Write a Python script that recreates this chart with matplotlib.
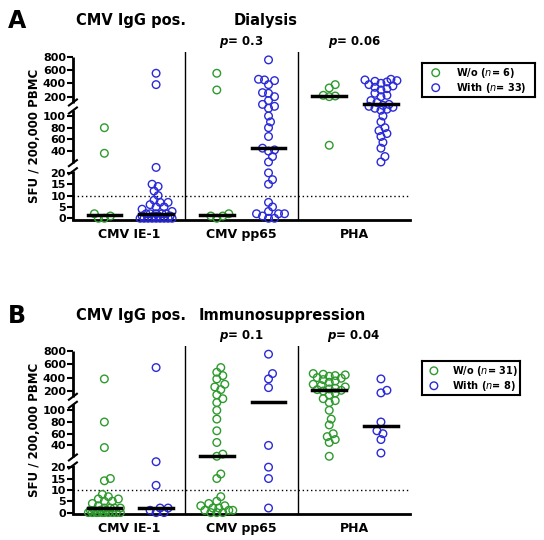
import numpy as np
import matplotlib
matplotlib.use("Agg")
import matplotlib.pyplot as plt

categories = ["CMV IE-1", "CMV pp65", "PHA"]
yticks = [0, 5, 10, 15, 20, 40, 60, 80, 100, 200, 400, 600, 800]

# Panel A (Dialysis)
A_wo = [[80, 38, 2, 1, 0, 0],
        [550, 300, 2, 1, 1, 0],
        [380, 330, 220, 210, 200, 50]]
A_with = [[550, 380, 25, 15, 14, 12, 10, 8, 7, 7, 6, 5, 5, 4, 3, 2, 2, 2, 2, 2, 1, 1, 1, 1, 0, 0, 0, 0, 0, 0, 0, 0, 0],
          [750, 460, 450, 440, 380, 260, 250, 200, 180, 160, 150, 140, 100, 90, 80, 65, 45, 42, 40, 35, 30, 20, 17, 15, 7, 5, 3, 2, 2, 2, 1, 0, 0],
          [460, 450, 440, 430, 420, 400, 380, 360, 340, 320, 300, 250, 220, 200, 180, 170, 160, 155, 150, 145, 140, 135, 130, 100, 90, 80, 75, 70, 65, 55, 45, 35, 30]]
A_p = ["0.3", "0.06"]
A_leg = ["6", "33"]

# Panel B (Immunosuppression)
B_wo = [[380, 80, 38, 15, 14, 8, 7, 6, 6, 5, 5, 4, 3, 2, 2, 2, 2, 1, 1, 1, 1, 0, 0, 0, 0, 0, 0, 0, 0, 0, 0],
        [550, 480, 430, 380, 300, 260, 220, 180, 160, 140, 100, 85, 65, 45, 32, 30, 17, 15, 7, 5, 4, 3, 3, 2, 2, 1, 1, 1, 0, 0, 0],
        [460, 450, 440, 430, 420, 400, 390, 370, 350, 330, 300, 280, 260, 240, 230, 220, 210, 200, 190, 180, 160, 150, 140, 100, 85, 75, 60, 55, 50, 45, 30]]
B_with = [[550, 25, 12, 2, 2, 1, 0, 0],
          [750, 460, 380, 250, 40, 20, 15, 2],
          [380, 210, 190, 80, 65, 60, 50, 33]]
B_p = ["0.1", "0.04"]
B_leg = ["31", "8"]

KV = [-20, 0, 20, 40, 100, 200, 800, 900]
KH = [-20, 0, 45.3, 67, 102, 121.3, 161.3, 168]
def f(v):
    return np.interp(v, KV, KH)

GREEN = "#2e9a2e"
BLUE = "#2a2ad8"

fig = plt.figure(figsize=(5.44, 5.40), dpi=100)

def swarm(xc, vals, xperpx, maxpx=17):
    h = f(np.array(vals, float))
    order = np.argsort(h)
    placed = []
    xs = np.zeros(len(h))
    diam = 6.0
    steps = [0]
    for k in range(1, int(maxpx / 2) + 1):
        steps += [k * 2, -k * 2]
    for i in order:
        best, bestd = 0, -1
        for c in steps:
            x = xc + c * xperpx
            d = min([np.hypot((x - px) / xperpx, h[i] - ph) for px, ph in placed] + [99])
            if d >= diam:
                best = c; bestd = d
                break
            if d > bestd:
                best, bestd = c, d
        x = xc + best * xperpx
        xs[i] = x
        placed.append((x, h[i]))
    return xs, h

def panel(rect, wo, wi, pvals, leg, letter, subtitle, legrect, ytop):
    ax = fig.add_axes(rect)
    ax.set_xlim(0, 3)
    ax.set_ylim(-1.5, 166)
    xperpx = 3 / (rect[2] * 544)
    for s in ["top", "right", "left"]:
        ax.spines[s].set_visible(False)
    ax.spines["bottom"].set_linewidth(2)
    for a, b in [(-1.5, 47), (55, 108), (115, 161.3)]:
        ax.plot([0, 0], [a, b], color="k", lw=2, clip_on=False, solid_capstyle="butt")
    for hb in [51, 111.5]:
        for d in (-4, 4):
            ax.plot([-4 * xperpx, 4 * xperpx], [hb + d - 3, hb + d + 3], color="k", lw=1.5, clip_on=False)
    ax.set_yticks(f(np.array(yticks)))
    ax.set_yticklabels([str(t) for t in yticks], fontsize=8, fontweight="bold")
    ax.tick_params(axis="y", width=1.5, length=4, pad=1)
    ax.set_xticks([0.5, 1.5, 2.5])
    ax.set_xticklabels(categories, fontsize=9, fontweight="bold")
    ax.tick_params(axis="x", length=0, pad=6)
    ax.set_ylabel("SFU / 200,000 PBMC", fontsize=8.5, fontweight="bold", labelpad=1)
    ax.axhline(f(10), color="k", ls=(0, (1, 2)), lw=1)
    for xv in (1, 2):
        ax.axvline(xv, color="k", lw=1)
    for g in range(3):
        for vals, off, col in [(wo[g], 0.28, GREEN), (wi[g], 0.74, BLUE)]:
            xs, hs = swarm(g + off, vals, xperpx)
            ax.scatter(xs, hs, s=30, facecolors="none", edgecolors=col, linewidths=1, clip_on=False, zorder=3)
            m = f(np.median(vals))
            ax.plot([g + off - 0.15, g + off + 0.15], [m, m], color="k", lw=2.5, zorder=4)
    for g, p in zip((1, 2), pvals):
        ax.text(g + 0.5, 168, r"$\mathbfit{p}$= " + p, ha="center", va="bottom", fontsize=8.5, fontweight="bold")
    fig.text(0.015, ytop, letter, fontsize=17, fontweight="bold", va="center")
    fig.text(0.14, ytop, "CMV IgG pos.", fontsize=10.5, fontweight="bold", va="center")
    fig.text(0.43 if letter == "A" else 0.365, ytop, subtitle, fontsize=10.5, fontweight="bold", va="center")
    lax = fig.add_axes(legrect)
    lax.set_xticks([]); lax.set_yticks([])
    for s in lax.spines.values():
        s.set_linewidth(1.5)
    lax.set_xlim(0, 1); lax.set_ylim(0, 1)
    lax.scatter([0.12], [0.72], s=30, facecolors="none", edgecolors=GREEN, linewidths=1)
    lax.scatter([0.12], [0.28], s=30, facecolors="none", edgecolors=BLUE, linewidths=1)
    lax.text(0.3, 0.72, r"W/o ($\mathit{n}$= " + leg[0] + ")", va="center", fontsize=7, fontweight="bold")
    lax.text(0.3, 0.28, r"With ($\mathit{n}$= " + leg[1] + ")", va="center", fontsize=7, fontweight="bold")

panel([0.134, 0.593, 0.62, 0.311], A_wo, A_with, A_p, A_leg, "A", "Dialysis", [0.776, 0.82, 0.208, 0.063], 0.962)
panel([0.134, 0.048, 0.62, 0.311], B_wo, B_with, B_p, B_leg, "B", "Immunosuppression", [0.776, 0.268, 0.18, 0.063], 0.415)

fig.savefig("out.png", dpi=100)
